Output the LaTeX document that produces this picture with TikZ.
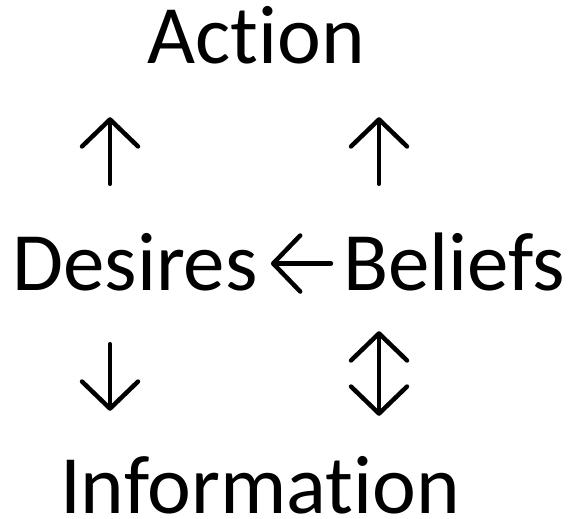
\documentclass[tikz,border=0pt]{standalone}
\usepackage{fontspec}
\setmainfont{Carlito}[Ligatures=NoCommon]
\usepackage{tikz}
\usetikzlibrary{arrows.meta}
\tikzset{
    big-label/.style = {inner sep=0pt, text height=53pt, text depth=0pt, anchor=base, font=\fontsize{83}{99}\selectfont},
    glyph-arrow/.style = {line width=4.5pt, line cap=round, -{Straight Barb[length=27pt, width=56pt, round]}},
    glyph-both/.style = {line width=4.5pt, line cap=round, {Straight Barb[length=27pt, width=56pt, round]}-{Straight Barb[length=27pt, width=56pt, round]}},
}

\begin{document}
\begin{tikzpicture}[x=1pt, y=-1pt]
\useasboundingbox (0,0) rectangle (571,519);
\node[big-label] (action) at (256,64) {Action};
\node[big-label] (desires) at (135,290) {Desires};
\node[big-label] (beliefs) at (454,290) {Beliefs};
\node[big-label] (info) at (260,513) {Information};
\coordinate (col-left) at (110,0);
\coordinate (col-right) at (379,0);
% upper row
\draw[glyph-arrow, shorten <=53pt, shorten >=53pt] (desires.north -| col-left) -- (action.south -| col-left);
\draw[glyph-arrow, shorten <=53pt, shorten >=53pt] (beliefs.north -| col-right) -- (action.south -| col-right);
% middle
\draw[glyph-arrow, shorten <=12pt, shorten >=13pt] (beliefs.west) -- (desires.east);
% lower row
\draw[glyph-arrow, shorten <=54pt, shorten >=49pt] (desires.south -| col-left) -- (info.north -| col-left);
\draw[glyph-both, shorten <=41pt, shorten >=44pt] (beliefs.south -| col-right) -- (info.north -| col-right);
\end{tikzpicture}
\end{document}
